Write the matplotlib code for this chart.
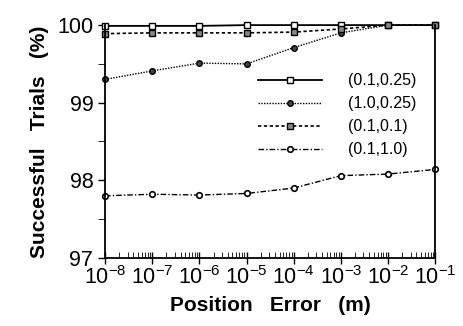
import matplotlib.pyplot as plt
from matplotlib.ticker import FixedLocator, LogLocator, NullFormatter

plt.rcParams['font.family'] = ['Liberation Sans', 'DejaVu Sans']
plt.rcParams['mathtext.fontset'] = 'custom'
plt.rcParams['mathtext.rm'] = 'Liberation Sans'

# position error (m)
pos_err = [1e-8, 1e-7, 1e-6, 1e-5, 1e-4, 1e-3, 1e-2, 1e-1]
labels = ['(0.1,0.25)', '(1.0,0.25)', '(0.1,0.1)', '(0.1,1.0)']
s_01_025 = [99.99, 99.99, 99.99, 100.0, 100.0, 100.0, 100.0, 100.0]
s_10_025 = [99.30, 99.41, 99.51, 99.50, 99.71, 99.90, 100.0, 100.0]
s_01_01 = [99.89, 99.90, 99.90, 99.90, 99.91, 99.95, 100.0, 100.0]
s_01_10 = [97.80, 97.82, 97.81, 97.83, 97.90, 98.06, 98.08, 98.14]
xtick_labels = [r'$\mathdefault{10^{-%d}}$' % k for k in range(8, 0, -1)]

fig = plt.figure(figsize=(4.63, 3.26), dpi=100)
ax = fig.add_axes([0.227, 0.209, 0.713, 0.714])

common = dict(color='black', ms=4, mec='black', clip_on=False)
ax.plot(pos_err, s_01_025, lw=1.3, ls='-', marker='s', mfc='white', mew=1.0,
        label=labels[0], **common)
ax.plot(pos_err, s_10_025, lw=1.0, ls=(0, (1, 1)), marker='o', mfc='#444444',
        mew=1.0, label=labels[1], **common)
ax.plot(pos_err, s_01_01, lw=1.2, ls=(0, (2, 1.5)), marker='s', mfc='#888888',
        mew=1.0, label=labels[2], **common)
ax.plot(pos_err, s_01_10, lw=1.0, ls=(0, (4, 1.5, 1, 1.5)), marker='o',
        mfc='white', mew=1.2, label=labels[3], **common)

ax.set_xscale('log')
ax.set_xlim(1e-8, 1e-1)
ax.xaxis.set_major_locator(FixedLocator(pos_err))
ax.set_xticklabels(xtick_labels)
ax.xaxis.set_minor_locator(LogLocator(base=10, subs=range(2, 10), numticks=20))
ax.xaxis.set_minor_formatter(NullFormatter())
ax.set_ylim(97, 100)
ax.set_yticks([97, 98, 99, 100])
ax.set_yticks([97.5, 98.5, 99.5], minor=True)
ax.spines['top'].set_visible(False)
for sp in ax.spines.values():
    sp.set_linewidth(1.3)
ax.tick_params(axis='both', which='major', labelsize=15.5, width=1.0)
ax.tick_params(axis='y', which='both', direction='out', length=5)
ax.tick_params(axis='x', which='minor', direction='in', length=4)
ax.tick_params(axis='x', which='major', direction='inout', length=8, pad=2)

ax.set_xlabel('Position   Error   (m)', fontsize=15, fontweight='bold', labelpad=5)
ax.set_ylabel('Successful   Trials   (%)', fontsize=15, fontweight='bold', labelpad=6)

leg = ax.legend(loc='upper left', bbox_to_anchor=(0.42, 0.855), frameon=False,
                fontsize=11.5, handlelength=4.0, labelspacing=0.5, handletextpad=1.6)

fig.savefig('out.png', dpi=100)
